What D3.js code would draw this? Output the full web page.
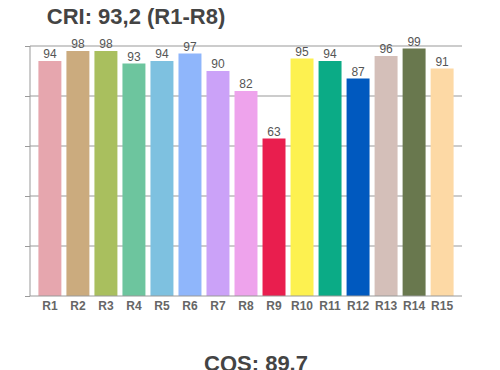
<!DOCTYPE html>
<html>
<head>
<meta charset="utf-8">
<script src="https://cdn.jsdelivr.net/npm/d3@7"></script>
<style>
  body { margin: 0; background: #fff; }
  svg { display: block; font-family: "Liberation Sans", Arial, sans-serif; }
</style>
</head>
<body>
<svg id="chart" width="500" height="370"></svg>
<script>
// Chart data
const categories = ['R1','R2','R3','R4','R5','R6','R7','R8','R9','R10','R11','R12','R13','R14','R15'];
const values = [94, 98, 98, 93, 94, 97, 90, 82, 63, 95, 94, 87, 96, 99, 91];
const colors = ['#e6a6ae','#cbab7e','#a9bf5e','#6dc59e','#7ec1e0','#8fb6fb','#cba2f8','#eea3ec',
                '#e91e4e','#fdf150','#0bab86','#0059bf','#d4bfb9','#69784e','#fdd9a5'];
const yTicks = [0, 20, 40, 60, 80, 100];
const title = 'CRI: 93,2 (R1-R8)';
const subtitle = 'CQS: 89.7';

const svg = d3.select('#chart');
const plotLeft = 30, plotRight = 462, plotTop = 46, plotBottom = 296;

const x = d3.scaleBand()
    .domain(categories)
    .range([plotLeft, plotRight])
    .paddingInner(0.18)
    .paddingOuter(0.3);

const y = d3.scaleLinear()
    .domain([0, 100])
    .range([plotBottom, plotTop]);

// Tick marks on the left
svg.append('g')
    .attr('transform', `translate(${plotLeft},0)`)
    .call(d3.axisLeft(y).tickValues(yTicks).tickSize(5).tickFormat(''))
    .call(g => g.select('.domain').remove())
    .call(g => g.selectAll('line').attr('stroke', '#999').attr('stroke-width', 1));

// Gridlines
svg.append('g')
    .selectAll('line')
    .data(yTicks.filter(d => d > 0))
    .join('line')
    .attr('x1', plotLeft)
    .attr('x2', plotRight)
    .attr('y1', d => y(d))
    .attr('y2', d => y(d))
    .attr('stroke', '#999')
    .attr('stroke-width', 1);

// Bars
svg.append('g')
    .selectAll('rect')
    .data(values)
    .join('rect')
    .attr('x', (d, i) => x(categories[i]))
    .attr('y', d => y(d))
    .attr('width', x.bandwidth())
    .attr('height', d => plotBottom - y(d))
    .attr('fill', (d, i) => colors[i]);

// Value labels
svg.append('g')
    .selectAll('text')
    .data(values)
    .join('text')
    .attr('x', (d, i) => x(categories[i]) + x.bandwidth() / 2)
    .attr('y', d => y(d) - 3)
    .attr('text-anchor', 'middle')
    .attr('font-size', 12)
    .attr('fill', '#555')
    .text(d => d);

// Axis frame: left and bottom
svg.append('line')
    .attr('x1', plotLeft).attr('x2', plotLeft)
    .attr('y1', plotTop).attr('y2', plotBottom)
    .attr('stroke', '#999');
svg.append('g')
    .attr('transform', `translate(0,${plotBottom})`)
    .call(d3.axisBottom(x).tickSize(0).tickPadding(5))
    .call(g => g.select('.domain').attr('stroke', '#999').attr('d', `M${plotLeft},0H${plotRight}`))
    .call(g => g.selectAll('text')
        .attr('font-size', 12)
        .attr('font-weight', 'bold')
        .attr('fill', '#666')
        .attr('font-family', '"Liberation Sans", Arial, sans-serif'));

// Titles
svg.append('text')
    .attr('x', 136)
    .attr('y', 24)
    .attr('text-anchor', 'middle')
    .attr('font-size', 22)
    .attr('font-weight', 'bold')
    .attr('fill', '#444')
    .text(title);

svg.append('text')
    .attr('x', 256)
    .attr('y', 371)
    .attr('text-anchor', 'middle')
    .attr('font-size', 22)
    .attr('font-weight', 'bold')
    .attr('fill', '#444')
    .text(subtitle);
</script>
</body>
</html>
